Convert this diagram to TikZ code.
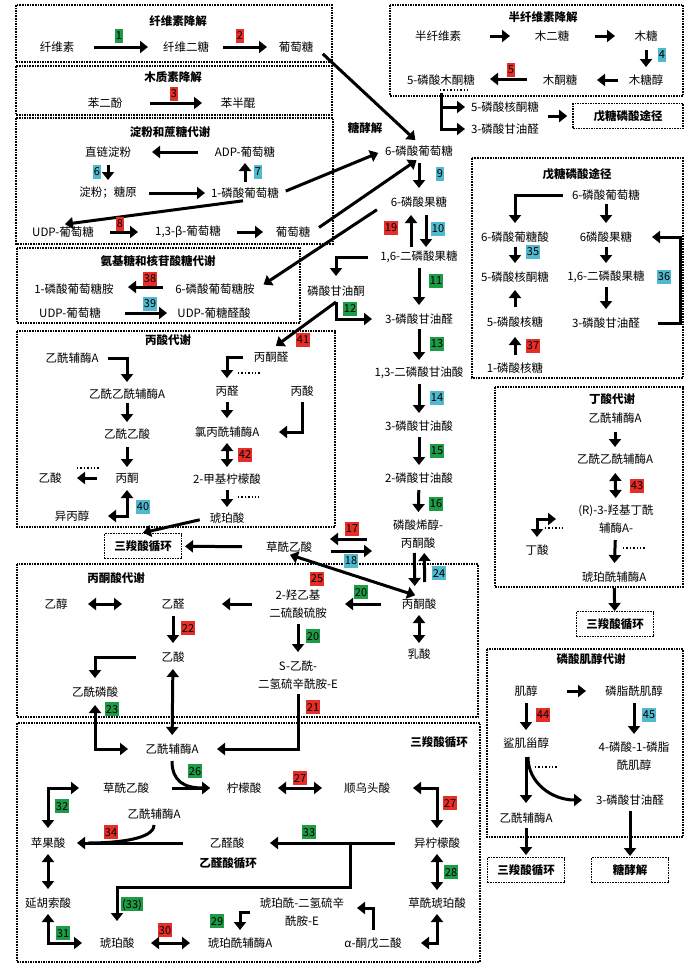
\documentclass[tikz,border=0pt]{standalone}
\usepackage{fontspec}
\setmainfont{Noto Sans CJK SC}
\usetikzlibrary{arrows.meta}

\definecolor{vertlbl}{RGB}{30,155,70}
\definecolor{rougelbl}{RGB}{230,45,40}
\definecolor{cyanlbl}{RGB}{80,185,205}

\tikzset{
  txt/.style={font=\fontsize{11.5}{18}\selectfont, align=center, inner sep=2pt},
  titre/.style={txt, font=\fontsize{11.5}{18}\selectfont\bfseries},
  fleche/.style={line width=3pt, -{Triangle[length=8pt,width=12pt]}},
  dfleche/.style={line width=3pt, {Triangle[length=8pt,width=12pt]}-{Triangle[length=8pt,width=12pt]}},
  trait/.style={line width=3pt},
  cadre/.style={densely dotted, line width=1.6pt},
  pointille/.style={dotted, line width=1.4pt},
  boite/.style={draw, cadre, titre, minimum width=77pt, minimum height=25pt},
  num/.style={font=\fontsize{11}{12}\selectfont, inner xsep=1.2pt, inner ysep=0pt, minimum height=13.5pt, text depth=0pt},
  nv/.style={num, fill=vertlbl},
  nr/.style={num, fill=rougelbl},
  nc/.style={num, fill=cyanlbl}
}

\begin{document}
\begin{tikzpicture}[x=1pt, y=-1pt]
  \useasboundingbox[fill=white] (0,0) rectangle (700,969);

  %cadres
  \draw[cadre] (16,5) rectangle (332,62);
  \draw[cadre] (16,66) rectangle (332,115);
  \draw[cadre] (16,118) rectangle (333,244);
  \draw[cadre] (17,248) rectangle (300,323);
  \draw[cadre] (17,331) rectangle (335,527);
  \draw[cadre] (17,564) rectangle (478,717);
  \draw[cadre] (17,723) rectangle (480,962);
  \draw[cadre] (390,5) rectangle (683,96);
  \draw[cadre] (472,158) rectangle (683,378);
  \draw[cadre] (495,387) rectangle (683,587);
  \draw[cadre] (487,649) rectangle (683,837);

  %titres
  \node[titre] (t1) at (178,21) {纤维素降解};
  \node[titre] (t2) at (173,77) {木质素降解};
  \node[titre] (t3) at (170,132) {淀粉和蔗糖代谢};
  \node[titre] (t4) at (158,261) {氨基糖和核苷酸糖代谢};
  \node[titre] (t5) at (168,340) {丙酸代谢};
  \node[titre] (t6) at (116,578) {丙酮酸代谢};
  \node[titre] (t7) at (439,742) {三羧酸循环};
  \node[titre] (t8) at (543,17) {半纤维素降解};
  \node[titre] (t9) at (577,174) {戊糖磷酸途径};
  \node[titre] (t10) at (612,399) {丁酸代谢};
  \node[titre] (t11) at (591,659) {磷酸肌醇代谢};
  \node[titre] (t12) at (365,128) {糖酵解};
  \node[titre] (t13) at (228,863) {乙醛酸循环};

  %petites boites
  \node[boite] (tca1) at (143,546) {三羧酸循环};
  \node[boite, minimum width=110pt] (ppp1) at (628,116) {戊糖磷酸途径};
  \node[boite] (tca2) at (615,624) {三羧酸循环};
  \node[boite] (tca3) at (526,870) {三羧酸循环};
  \node[boite] (glyb) at (630,870) {糖酵解};

  %cellulose
  \node[txt] (cel) at (57,47) {纤维素};
  \node[txt] (cbio) at (186,47) {纤维二糖};
  \node[txt] (glc1) at (296,47) {葡萄糖};
  \draw[fleche, shorten <=37pt, shorten >=38pt] (cel.center) -- (cbio.center);
  \draw[fleche, shorten <=37pt, shorten >=29pt] (cbio.center) -- (glc1.center);

  %lignine
  \node[txt] (hq) at (105,103) {苯二酚};
  \node[txt] (sq) at (238,103) {苯半醌};
  \draw[fleche, shorten <=45pt, shorten >=36pt] (hq.center) -- (sq.center);

  %amidon et saccharose
  \node[txt] (amy) at (108,152) {直链淀粉};
  \node[txt] (adpg) at (245,152) {ADP-葡萄糖};
  \node[txt] (stch) at (108,193) {淀粉；糖原};
  \node[txt] (g1p) at (245,193) {1-磷酸葡萄糖};
  \node[txt] (udpg) at (63,232) {UDP-葡萄糖};
  \node[txt] (bglc) at (188,232) {1,3-β-葡萄糖};
  \node[txt] (glc2) at (293,232) {葡萄糖};
  \draw[fleche, shorten <=47pt, shorten >=44pt] (adpg.center) -- (amy.center);
  \draw[fleche, shorten <=13pt, shorten >=13pt] (amy.center) -- (stch.center);
  \draw[fleche, shorten <=11pt, shorten >=11pt] (g1p.center) -- (adpg.center);
  \draw[fleche, shorten <=41pt, shorten >=40pt] (stch.center) -- (g1p.center);
  \draw[fleche, shorten <=47pt, shorten >=50pt] (udpg.center) -- (bglc.center);
  \draw[fleche, shorten <=49pt, shorten >=30pt] (bglc.center) -- (glc2.center);

  %sucres amines
  \node[txt] (gn1p) at (74,289) {1-磷酸葡萄糖胺};
  \node[txt] (gn6p) at (215,289) {6-磷酸葡萄糖胺};
  \node[txt] (udpg2) at (70,313) {UDP-葡萄糖};
  \node[txt] (udpga) at (214,313) {UDP-葡糖醛酸};
  \draw[fleche, shorten <=52pt, shorten >=54pt] ([yshift=2pt]gn6p.center) -- ([yshift=2pt]gn1p.center);
  \draw[fleche, shorten <=55pt, shorten >=47pt] (udpg2.center) -- (udpga.center);

  %glycolyse
  \node[txt] (g6p) at (419,151) {6-磷酸葡萄糖};
  \node[txt] (f6p) at (419,202) {6-磷酸果糖};
  \node[txt] (f16) at (419,257) {1,6-二磷酸果糖};
  \node[txt] (dhap) at (336,291) {磷酸甘油酮};
  \node[txt] (gap) at (419,319) {3-磷酸甘油醛};
  \node[txt] (bpg) at (419,373) {1,3-二磷酸甘油酸};
  \node[txt] (pg3) at (419,426) {3-磷酸甘油酸};
  \node[txt] (pg2) at (419,478) {2-磷酸甘油酸};
  \node[txt] (pep) at (418,534) {磷酸烯醇-\\丙酮酸};
  \node[txt] (pyr) at (419,604) {丙酮酸};
  \node[txt] (lac) at (419,654) {乳酸};
  \draw[fleche, shorten <=12pt, shorten >=14pt] (g6p.center) -- (f6p.center);
  \draw[fleche, shorten <=10pt, shorten >=13pt] ([xshift=-8pt]f16.center) -- ([xshift=-8pt]f6p.center);
  \draw[fleche, shorten <=13pt, shorten >=10pt] ([xshift=7pt]f6p.center) -- ([xshift=7pt]f16.center);
  \draw[fleche, shorten <=11pt, shorten >=14pt] (f16.center) -- (gap.center);
  \draw[fleche, shorten <=51pt, shorten >=15pt] (f16.center) -| (dhap.center);
  \draw[fleche, shorten <=11pt, shorten >=47pt] (dhap.center) |- (gap.center);
  \draw[fleche, shorten <=10pt, shorten >=13pt] (gap.center) -- (bpg.center);
  \draw[fleche, shorten <=11pt, shorten >=13pt] (bpg.center) -- (pg3.center);
  \draw[fleche, shorten <=11pt, shorten >=13pt] (pg3.center) -- (pg2.center);
  \draw[fleche, shorten <=12pt, shorten >=22pt] (pg2.center) -- (pep.center);
  \draw[fleche, shorten <=19pt, shorten >=18pt] ([xshift=-4pt]pep.center) -- ([xshift=-4pt]pyr.center);
  \draw[fleche, shorten <=22pt, shorten >=19pt] ([xshift=6pt]pyr.center) -- ([xshift=6pt]pep.center);
  \draw[dfleche, shorten <=11pt, shorten >=11pt] (pyr.center) -- (lac.center);

  %liens vers la glycolyse
  \draw[fleche, shorten <=10pt, shorten >=5pt] (glc1.east) -- (g6p.north);
  \draw[fleche, shorten <=5pt, shorten >=5pt] (g1p.east) -- (g6p.west);
  \draw[fleche, shorten <=2pt, shorten >=2pt] (g1p.south) -- (udpg.north);
  \draw[fleche, shorten <=8pt, shorten >=3pt] (glc2.east) -- (g6p.south);
  \draw[fleche, shorten <=14pt, shorten >=8pt] (f6p.west) -- (gn6p.east);

  %oxaloacetate
  \node[txt] (oaa1) at (289,547) {草酰乙酸};
  \draw[fleche, shorten <=47pt, shorten >=42pt] (oaa1.center) -- (tca1.center);
  \draw[fleche, shorten <=51pt, shorten >=41pt] ([yshift=-5pt]pep.center) -- ([yshift=8pt]oaa1.center);
  \draw[fleche, shorten <=42pt, shorten >=46pt] ([yshift=-4pt]oaa1.center) -- ([yshift=-17pt]pep.center);
  \draw[dfleche, shorten <=1pt, shorten >=4pt] (oaa1.south) -- (pyr.north);

  %propanoate
  \node[txt] (accoa1) at (72,358) {乙酰辅酶A};
  \node[txt] (aacoa1) at (127,394) {乙酰乙酰辅酶A};
  \node[txt] (aca) at (127,434) {乙酰乙酸};
  \node[txt] (acet) at (127,478) {丙酮};
  \node[txt] (acid1) at (50,478) {乙酸};
  \node[txt] (ipa) at (72,516) {异丙醇};
  \node[txt] (mgo) at (271,357) {丙酮醛};
  \node[txt] (ppal) at (227,391) {丙醛};
  \node[txt] (ppa) at (302,391) {丙酸};
  \node[txt] (clp) at (227,432) {氯丙酰辅酶A};
  \node[txt] (mcit) at (227,479) {2-甲基柠檬酸};
  \node[txt] (suc1) at (227,518) {琥珀酸};
  \draw[fleche, shorten >=6pt] ([yshift=-11pt]dhap.center) -- (mgo.north);
  \draw[fleche, shorten <=36pt, shorten >=12pt] (accoa1.center) -| (aacoa1.center);
  \draw[fleche, shorten <=9pt, shorten >=12pt] (aacoa1.center) -- (aca.center);
  \draw[fleche, shorten <=13pt, shorten >=11pt] (aca.center) -- (acet.center);
  \draw[fleche, shorten <=30pt, shorten >=27pt] (acet.center) -- (acid1.center);
  \draw[dfleche, shorten <=36pt, shorten >=12pt] (ipa.center) -| (acet.center);
  \draw[fleche, shorten <=28pt, shorten >=13pt] (mgo.center) -| (ppal.center);
  \draw[fleche, shorten <=11pt, shorten >=14pt] (ppal.center) -- (clp.center);
  \draw[fleche, shorten <=11pt, shorten >=52pt] (ppa.center) |- (clp.center);
  \draw[dfleche, shorten <=11pt, shorten >=12pt] (clp.center) -- (mcit.center);
  \draw[fleche, shorten <=11pt, shorten >=11pt] (mcit.center) -- (suc1.center);
  \draw[fleche, shorten <=8pt] (suc1.west) -- (tca1.north);
  \draw[pointille] (77,468) -- (99,468);
  \draw[pointille] (238,373) -- (261,373);
  \draw[pointille] (238,497) -- (259,497);

  %pyruvate
  \node[txt] (etoh) at (56,604) {乙醇};
  \node[txt] (acal) at (173,604) {乙醛};
  \node[txt] (htpp) at (298,604) {2-羟乙基\\二硫酸硫胺};
  \node[txt] (acid2) at (173,657) {乙酸};
  \node[txt] (acp) at (95,692) {乙酰磷酸};
  \node[txt] (sadl) at (298,675) {S-乙酰-\\二氢硫辛酰胺-E};
  \draw[dfleche, shorten <=32pt, shorten >=51pt] (etoh.center) -- (acal.center);
  \draw[fleche, shorten <=46pt, shorten >=49pt] (htpp.center) -- (acal.center);
  \draw[fleche, shorten <=38pt, shorten >=47pt] (pyr.center) -- (htpp.center);
  \draw[fleche, shorten <=20pt, shorten >=23pt] (htpp.center) -- (sadl.center);
  \draw[fleche, shorten <=12pt, shorten >=14pt] (acal.center) -- (acid2.center);
  \draw[fleche, shorten <=37pt, shorten >=14pt] (acid2.center) -| (acp.center);

  %cycle de Krebs
  \node[txt] (accoa2) at (172,749) {乙酰辅酶A};
  \node[txt] (oaa2) at (126,788) {草酰乙酸};
  \node[txt] (cit) at (244,788) {柠檬酸};
  \node[txt] (acn) at (367,788) {顺乌头酸};
  \node[txt] (icit) at (437,843) {异柠檬酸};
  \node[txt] (osuc) at (437,903) {草酰琥珀酸};
  \node[txt] (akg) at (373,943) {α-酮戊二酸};
  \node[txt] (sdl) at (302,912) {琥珀酰-二氢硫辛\\酰胺-E};
  \node[txt] (succoa) at (240,943) {琥珀酰辅酶A};
  \node[txt] (suc2) at (117,943) {琥珀酸};
  \node[txt] (fum) at (48,903) {延胡索酸};
  \node[txt] (mal) at (48,843) {苹果酸};
  \node[txt] (accoa3) at (154,814) {乙酰辅酶A};
  \node[txt] (glx) at (227,843) {乙醛酸};
  \draw[fleche, shorten <=19pt, shorten >=45pt] (sadl.center) |- (accoa2.center);
  \draw[dfleche, shorten <=12pt, shorten >=14pt] (acid2.center) -- (accoa2.center);
  \draw[dfleche, shorten <=13pt, shorten >=44pt] (acp.center) |- (accoa2.center);
  \draw[fleche, shorten <=46pt, shorten >=34pt] (oaa2.center) -- (cit.center);
  \draw[fleche] ([yshift=-12pt]accoa2.center) .. controls +(0,20) and +(-26,0) .. ([xshift=-34pt]cit.center);
  \draw[dfleche, shorten <=34pt, shorten >=45pt] (cit.center) -- (acn.center);
  \draw[dfleche, shorten <=46pt, shorten >=15pt] (acn.center) -| (icit.center);
  \draw[dfleche, shorten <=11pt, shorten >=13pt] (icit.center) -- (osuc.center);
  \draw[dfleche, shorten <=11pt, shorten >=48pt] (osuc.center) |- (akg.center);
  \draw[fleche, shorten <=13pt, shorten >=55pt] (akg.center) |- ([yshift=4pt]sdl.center);
  \draw[fleche, shorten <=52pt, shorten >=13pt] (sdl.center) -| (succoa.center);
  \draw[dfleche, shorten <=50pt, shorten >=34pt] (succoa.center) -- (suc2.center);
  \draw[dfleche, shorten <=11pt, shorten >=35pt] (fum.center) |- (suc2.center);
  \draw[dfleche, shorten <=11pt, shorten >=14pt] (mal.center) -- (fum.center);
  \draw[dfleche, shorten <=47pt, shorten >=15pt] (oaa2.center) -| (mal.center);
  \draw[fleche, shorten <=44pt, shorten >=29pt] (glx.center) -- (mal.center);
  \draw[trait] ([yshift=-11pt]accoa3.center) .. controls +(0,14) and +(30,0) .. ([xshift=40pt]mal.center);
  \draw[fleche, shorten <=42pt, shorten >=43pt] (icit.center) -- (glx.center);
  \coordinate (br33) at (350,843);
  \draw[fleche, shorten >=22pt] (br33) -- ++(0,44) -| (suc2.center);

  %hemicellulose
  \node[txt] (hcel) at (438,36) {半纤维素};
  \node[txt] (xbio) at (552,36) {木二糖};
  \node[txt] (xyl) at (646,36) {木糖};
  \node[txt] (xol) at (646,80) {木糖醇};
  \node[txt] (xlu) at (560,80) {木酮糖};
  \node[txt] (x5p) at (441,80) {5-磷酸木酮糖};
  \node[txt] (ru5pA) at (505,107) {5-磷酸核酮糖};
  \node[txt] (gapA) at (505,129) {3-磷酸甘油醛};
  \draw[fleche, shorten <=52pt, shorten >=42pt] (hcel.center) -- (xbio.center);
  \draw[fleche, shorten <=43pt, shorten >=31pt] (xbio.center) -- (xyl.center);
  \draw[fleche, shorten <=14pt, shorten >=13pt] (xyl.center) -- (xol.center);
  \draw[fleche, shorten <=28pt, shorten >=37pt] (xol.center) -- (xlu.center);
  \draw[fleche, shorten <=33pt, shorten >=49pt] ([yshift=1pt]xlu.center) -- ([yshift=1pt]x5p.center);
  \draw[fleche, shorten <=13pt, shorten >=40pt] (x5p.center) |- (ru5pA.center);
  \draw[fleche, shorten <=13pt, shorten >=40pt] (x5p.center) |- (gapA.center);
  \draw[fleche, shorten >=5pt] ([xshift=-24pt]ppp1.west) -- (ppp1.west);
  \draw[pointille] (440,90) -- (468,90);

  %voie des pentoses phosphates
  \node[txt] (g6pB) at (606,195) {6-磷酸葡萄糖};
  \node[txt] (pgn) at (515,237) {6-磷酸葡糖酸};
  \node[txt] (f6pB) at (606,237) {6磷酸果糖};
  \node[txt] (ru5p) at (515,277) {5-磷酸核酮糖};
  \node[txt] (f16B) at (606,277) {1,6-二磷酸果糖};
  \node[txt] (r5p) at (515,322) {5-磷酸核糖};
  \node[txt] (gapB) at (606,323) {3-磷酸甘油醛};
  \node[txt] (r1p) at (515,368) {1-磷酸核糖};
  \draw[fleche, shorten <=43pt, shorten >=14pt] (g6pB.center) -| (pgn.center);
  \draw[fleche, shorten <=9pt, shorten >=14pt] (g6pB.center) -- (f6pB.center);
  \draw[fleche, shorten <=10pt, shorten >=14pt] (pgn.center) -- (ru5p.center);
  \draw[fleche, shorten <=10pt, shorten >=14pt] (f6pB.center) -- (f16B.center);
  \draw[fleche, shorten <=10pt, shorten >=14pt] (f16B.center) -- (gapB.center);
  \draw[fleche, shorten <=15pt, shorten >=13pt] (r5p.center) -- (ru5p.center);
  \draw[fleche, shorten <=13pt, shorten >=15pt] (r1p.center) -- (r5p.center);
  \draw[fleche, shorten <=52pt, shorten >=46pt] (gapB.center) -- ++(74,0) |- (f6pB.center);

  %butanoate
  \node[txt] (accoaB) at (615,418) {乙酰辅酶A};
  \node[txt] (aacoaB) at (615,459) {乙酰乙酰辅酶A};
  \node[txt] (hbcoa) at (616,519) {(R)-3-羟基丁酰\\辅酶A-};
  \node[txt] (succoaB) at (614,577) {琥珀酰辅酶A};
  \node[txt] (but) at (537,550) {丁酸};
  \draw[fleche, shorten <=14pt, shorten >=12pt] (accoaB.center) -- (aacoaB.center);
  \draw[dfleche, shorten <=14pt, shorten >=21pt] (aacoaB.center) -- (hbcoa.center);
  \draw[fleche, shorten <=21pt, shorten >=14pt] (hbcoa.center) -- (succoaB.center);
  \draw[dfleche, shorten <=13pt, shorten >=60pt] (but.center) |- (hbcoa.center);
  \draw[fleche, shorten <=11pt, shorten >=13pt] (succoaB.center) -- (tca2.center);
  \draw[pointille] (623,548) -- (646,548);
  \draw[pointille] (545,528) -- (565,528);

  %inositol phosphate
  \node[txt] (ino) at (526,691) {肌醇};
  \node[txt] (pi) at (634,691) {磷脂酰肌醇};
  \node[txt] (scyl) at (526,743) {鲨肌甾醇};
  \node[txt] (pip) at (634,756) {4-磷酸-1-磷脂\\酰肌醇};
  \node[txt] (gapC) at (630,800) {3-磷酸甘油醛};
  \node[txt] (accoaC) at (526,818) {乙酰辅酶A};
  \draw[fleche, shorten <=41pt, shorten >=48pt] (ino.center) -- (pi.center);
  \draw[fleche, shorten <=12pt, shorten >=13pt] (ino.center) -- (scyl.center);
  \draw[fleche, shorten <=12pt, shorten >=22pt] (pi.center) -- (pip.center);
  \draw[fleche, shorten <=14pt, shorten >=15pt] (scyl.center) -- (accoaC.center);
  \draw[fleche] ([xshift=2pt, yshift=-14pt]scyl.center) .. controls +(0,26) and +(-30,0) .. ([xshift=-48pt]gapC.center);
  \draw[fleche, shorten <=10pt, shorten >=15pt] (accoaC.center) -- (tca3.center);
  \draw[fleche, shorten <=11pt, shorten >=14pt] (gapC.center) -- (glyb.center);
  \draw[pointille] (535,767) -- (557,767);

  %enzymes
  \node[nv] (e1) at (119,36) {1};
  \node[nr] (e2) at (240,36) {2};
  \node[nr] (e3) at (174,94) {3};
  \node[nc] (e4) at (662,55) {4};
  \node[nr] (e5) at (511,70) {5};
  \node[nc] (e6) at (97,172) {6};
  \node[nc] (e7) at (258,172) {7};
  \node[nr] (e8) at (120,224) {8};
  \node[nc] (e9) at (440,174) {9};
  \node[nc] (e10) at (438,229) {10};
  \node[nv] (e11) at (436,281) {11};
  \node[nv] (e12) at (350,309) {12};
  \node[nv] (e13) at (437,344) {13};
  \node[nc] (e14) at (437,398) {14};
  \node[nv] (e15) at (437,451) {15};
  \node[nv] (e16) at (436,504) {16};
  \node[nr] (e17) at (352,529) {17};
  \node[nc] (e18) at (351,561) {18};
  \node[nr] (e19) at (391,228) {19};
  \node[nv] (e20a) at (361,592) {20};
  \node[nv] (e20b) at (313,636) {20};
  \node[nr] (e21) at (313,707) {21};
  \node[nr] (e22) at (188,628) {22};
  \node[nv] (e23) at (112,709) {23};
  \node[nc] (e24) at (439,573) {24};
  \node[nr] (e25) at (317,579) {25};
  \node[nv] (e26) at (195,771) {26};
  \node[nr] (e27a) at (300,778) {27};
  \node[nr] (e27b) at (450,803) {27};
  \node[nv] (e28) at (451,872) {28};
  \node[nv] (e29) at (217,921) {29};
  \node[nr] (e30) at (165,930) {30};
  \node[nv] (e31) at (63,933) {31};
  \node[nv] (e32) at (62,806) {32};
  \node[nv] (e33a) at (309,832) {33};
  \node[nv] (e33b) at (132,904) {(33)};
  \node[nr] (e34) at (111,832) {34};
  \node[nc] (e35) at (533,252) {35};
  \node[nc] (e36) at (664,277) {36};
  \node[nr] (e37) at (533,346) {37};
  \node[nr] (e38) at (150,279) {38};
  \node[nc] (e39) at (150,304) {39};
  \node[nc] (e40) at (143,507) {40};
  \node[nr] (e41) at (303,340) {41};
  \node[nr] (e42) at (245,455) {42};
  \node[nr] (e43) at (637,486) {43};
  \node[nr] (e44) at (543,715) {44};
  \node[nc] (e45) at (649,715) {45};
\end{tikzpicture}
\end{document}
